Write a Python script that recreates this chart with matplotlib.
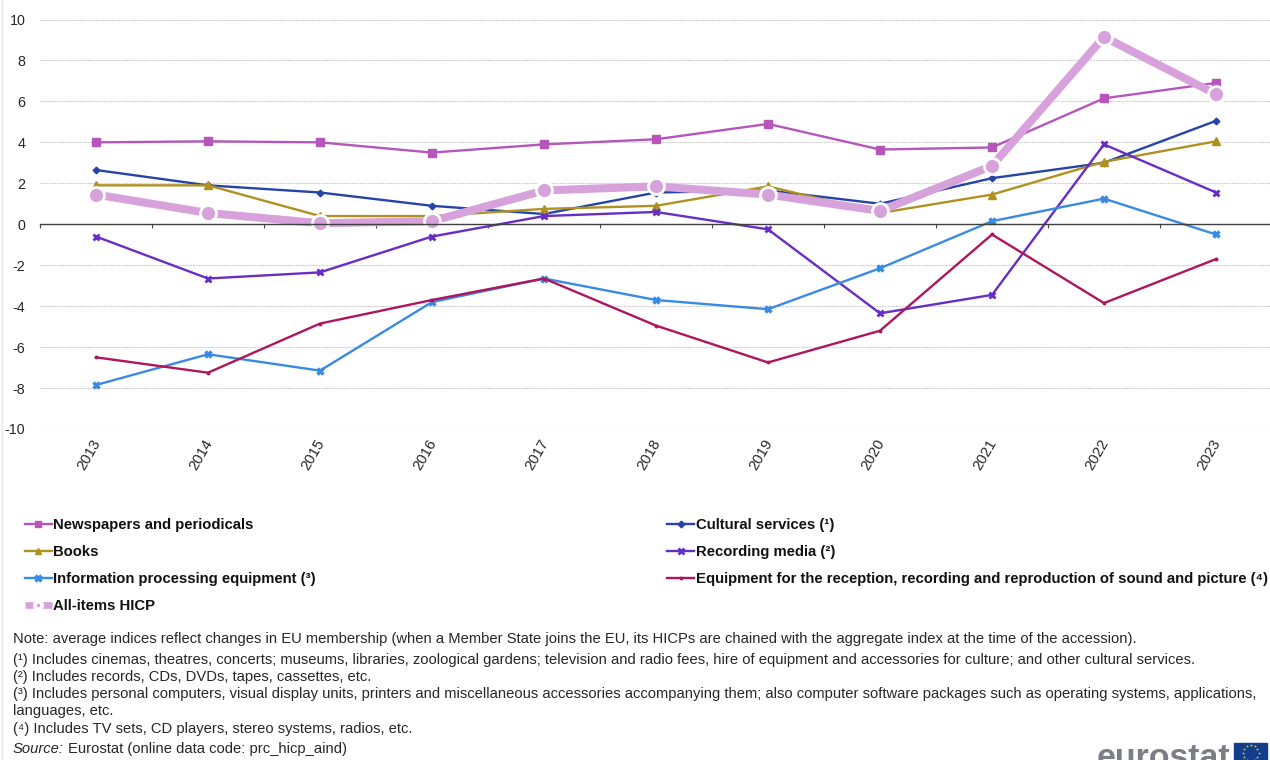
import numpy as np
import matplotlib
matplotlib.use('Agg')
import matplotlib.pyplot as plt
from matplotlib.patches import Rectangle

plt.rcParams['font.family'] = ['Liberation Sans', 'DejaVu Sans']
plt.rcParams['axes.unicode_minus'] = False

years = [2013, 2014, 2015, 2016, 2017, 2018, 2019, 2020, 2021, 2022, 2023]

newspapers = [4.0, 4.05, 4.0, 3.5, 3.9, 4.15, 4.9, 3.65, 3.75, 6.15, 6.9]
cultural = [2.65, 1.9, 1.55, 0.9, 0.5, 1.55, 1.65, 1.0, 2.25, 3.0, 5.05]
books = [1.9, 1.9, 0.4, 0.4, 0.75, 0.9, 1.85, 0.55, 1.45, 3.05, 4.05]
recording = [-0.6, -2.65, -2.35, -0.6, 0.4, 0.6, -0.25, -4.35, -3.45, 3.9, 1.55]
info_equipment = [-7.85, -6.35, -7.15, -3.8, -2.65, -3.7, -4.15, -2.15, 0.15, 1.25, -0.5]
sound_picture = [-6.5, -7.25, -4.85, -3.7, -2.65, -4.95, -6.75, -5.2, -0.5, -3.85, -1.7]
hicp = [1.45, 0.55, 0.05, 0.15, 1.65, 1.85, 1.45, 0.65, 2.85, 9.15, 6.35]

notes = [
    (639, 'Note: average indices reflect changes in EU membership (when a Member State joins the EU, its HICPs are chained with the aggregate index at the time of the accession).'),
    (660, '(¹) Includes cinemas, theatres, concerts; museums, libraries, zoological gardens; television and radio fees, hire of equipment and accessories for culture; and other cultural services.'),
    (677, '(²) Includes records, CDs, DVDs, tapes, cassettes, etc.'),
    (694, '(³) Includes personal computers, visual display units, printers and miscellaneous accessories accompanying them; also computer software packages such as operating systems, applications,'),
    (711, 'languages, etc.'),
    (729, '(⁴) Includes TV sets, CD players, stereo systems, radios, etc.'),
]

W, H = 1270, 760
fig = plt.figure(figsize=(W / 100, H / 100), dpi=100, facecolor='white')

# main axes, one category band is 112 px wide
ax = fig.add_axes([40 / W, 1 - 429 / H, 1232 / W, 409.5 / H])
ax.set_xlim(2012.5, 2023.5)
ax.set_ylim(-10, 10)

ax.plot(years, newspapers, color='#B656BD', lw=1.7, marker='s', ms=5.2, label='Newspapers and periodicals')
ax.plot(years, cultural, color='#2644A7', lw=1.7, marker='D', ms=3.4, label='Cultural services (¹)')
ax.plot(years, books, color='#B09120', lw=1.7, marker='^', ms=5.5, label='Books')
ax.plot(years, recording, color='#672DC4', lw=1.7, marker='x', ms=5, mew=2, label='Recording media (²)')
ax.plot(years, info_equipment, color='#388AE2', lw=1.7, marker='x', ms=5, mew=2.5, label='Information processing equipment (³)')
ax.plot(years, sound_picture, color='#AF155C', lw=1.7, marker='o', ms=1.8,
        label='Equipment for the reception, recording and reproduction of sound and picture (⁴)')
ax.plot(years, hicp, color='#D7A2DC', lw=5.8, marker='o', ms=11.5, mec='white', mew=2, label='All-items HICP')

for side in ['top', 'left', 'right']:
    ax.spines[side].set_visible(False)
ax.spines['bottom'].set_position(('data', 0))
ax.spines['bottom'].set_color('#404040')
ax.spines['bottom'].set_linewidth(1)
ax.set_axisbelow(True)
ax.set_yticks(range(-10, 11, 2))
ax.yaxis.grid(True, color='#C8C8C8', lw=0.8, ls=(0, (1.5, 1)))
ax.tick_params(axis='y', length=0, pad=10.5, labelsize=10.3, labelcolor='#262626')

# ticks sit on the zero line between the years, labels stay below the plot
ax.set_xticks(np.arange(2012.5, 2024))
ax.set_xticklabels([])
ax.tick_params(axis='x', length=3, width=0.8, color='#404040', direction='out')
for year in years:
    ax.text(year - 0.06, -10.4, str(year), rotation=60, ha='center', va='top', fontsize=10.6,
            color='#262626', rotation_mode='default')

handles, labels = ax.get_legend_handles_labels()
order = [0, 2, 4, 6, 1, 3, 5]
leg = fig.legend([handles[i] for i in order], [labels[i] for i in order], ncol=2,
                 loc='upper left', bbox_to_anchor=(11.6 / W, 1 - 505 / H), frameon=False,
                 prop={'size': 10.7, 'weight': 'bold'}, handlelength=1.8, handletextpad=0.1,
                 labelspacing=0.87, columnspacing=23.65, labelcolor='#111111')
for line in leg.get_lines():
    line.set_markersize(min(line.get_markersize(), 5))
    if line.get_linewidth() > 3:
        # thick key with a small ringed dot in the middle
        line.set_linewidth(4.8)
        line.set_solid_capstyle('butt')
        line.set_markersize(5.2)
        line.set_markeredgewidth(2.7)

# overlay in pixel coordinates for the notes and the logo
page = fig.add_axes([0, 0, 1, 1], zorder=-1)
page.set_xlim(0, W)
page.set_ylim(H, 0)
page.axis('off')
page.plot([2, 2], [0, H], color='#E6E6E6', lw=1)

for y, line in notes:
    page.text(13, y, line, fontsize=10.66, va='center', color='#262626')
page.text(13, 749, 'Source:', fontsize=10.66, va='center', style='italic', color='#262626')
page.text(68, 749, 'Eurostat (online data code: prc_hicp_aind)', fontsize=10.66, va='center', color='#262626')

page.text(1097, 767, 'eurostat', fontsize=24.4, weight='bold', color='#7B7F85', va='baseline', ha='left')
page.add_patch(Rectangle((1234, 743), 33, 20, color='#123E8C', zorder=3))
angles = np.deg2rad(np.arange(0, 360, 30))
page.scatter(1250.5 + 8 * np.cos(angles), 753 + 8 * np.sin(angles), marker='*', s=5,
             color='#F5C518', linewidths=0, zorder=4)
page.set_xlim(0, W)
page.set_ylim(H, 0)

fig.savefig('out.png', dpi=100)
